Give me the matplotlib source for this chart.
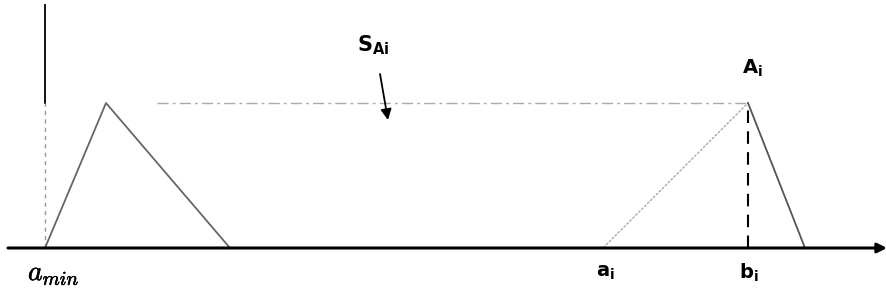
import matplotlib.pyplot as plt
import matplotlib.patheffects as pe

# shape data (pixel-like units, y measured from baseline upward)
left_tri_x = [45, 106, 230]
left_tri_y = [0, 145, 0]
right_tri_x = [603, 748, 805]
right_tri_y = [0, 145, 0]
peak_level = 145
level_x = [157, 748]
vaxis_top = 243

fig = plt.figure(figsize=(8.87, 2.97), dpi=100)
ax = fig.add_axes([0, 0, 1, 1])
ax.set_xlim(0, 887)
ax.set_ylim(-49, 248)
ax.axis('off')

# horizontal axis with arrow
ax.annotate('', xy=(887, 0), xytext=(8, 0),
            arrowprops=dict(arrowstyle='-|>', color='black', lw=2.2, mutation_scale=14,
                            shrinkA=0, shrinkB=0))
# vertical axis: solid above the level, dashed below
ax.plot([45, 45], [peak_level, vaxis_top], color='black', lw=1.3)
ax.plot([45, 45], [0, peak_level], color='#999999', lw=1, ls=(0, (3, 3)))

# level line
ax.plot(level_x, [peak_level, peak_level], color='#aaaaaa', lw=1, ls=(0, (8, 3, 2, 3)))

# triangles
ax.plot(left_tri_x, left_tri_y, color='#666666', lw=1.3)
ax.plot(right_tri_x[:2], right_tri_y[:2], color='#aaaaaa', lw=1, ls=(0, (2, 1)))
ax.plot(right_tri_x[1:], right_tri_y[1:], color='#555555', lw=1.3)
ax.plot([748, 748], [0, peak_level], color='black', lw=1.5, ls=(0, (6, 4)))

# labels
bold = [pe.withStroke(linewidth=0.4, foreground='black')]
ax.text(28, -25, r'$a_{min}$', fontsize=20, math_fontfamily='cm', va='center', ha='left',
        path_effects=bold)
ax.text(596, -25, r'$\mathbf{a_i}$', fontsize=14, math_fontfamily='dejavusans', va='center', ha='left')
ax.text(739, -25, r'$\mathbf{b_i}$', fontsize=14, math_fontfamily='dejavusans', va='center', ha='left')
ax.text(742, 180, r'$\mathbf{A_i}$', fontsize=14, math_fontfamily='dejavusans', va='center', ha='left')
ax.text(357, 203, r'$\mathbf{S_{Ai}}$', fontsize=15, math_fontfamily='dejavusans', va='center', ha='left')
ax.annotate('', xy=(388, 128), xytext=(380, 174),
            arrowprops=dict(arrowstyle='-|>', color='black', lw=1.3, mutation_scale=16,
                            shrinkA=0, shrinkB=0))

fig.savefig('out.png', dpi=100)
